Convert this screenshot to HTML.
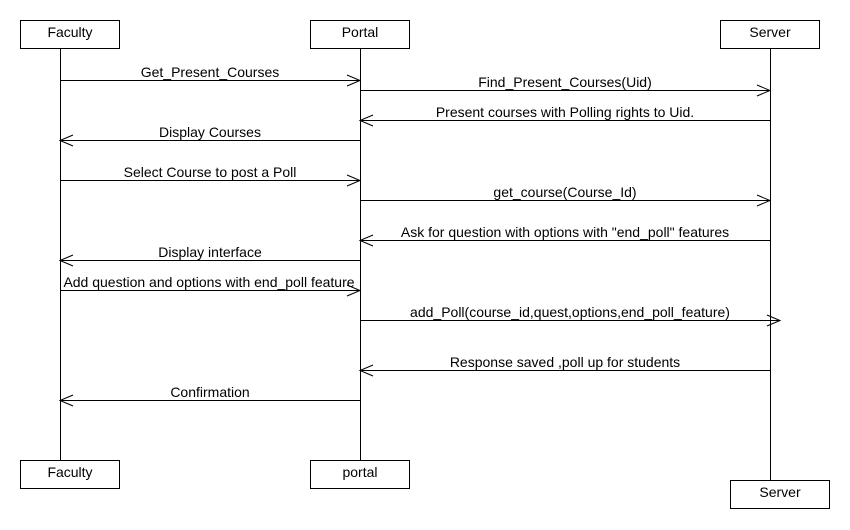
<!DOCTYPE html>
<html><head><meta charset="utf-8"><style>html,body{margin:0;padding:0;background:#fff}svg{display:block}</style></head>
<body>
<svg width="850" height="530" xmlns="http://www.w3.org/2000/svg" font-family="Liberation Sans, Arial, sans-serif" font-size="14" fill="#000">
<rect width="850" height="530" fill="#fff"/>
<g stroke="#000" stroke-width="1" fill="none" shape-rendering="crispEdges">
<rect x="20.5" y="20.5" width="99" height="28"/>
<rect x="310.5" y="20.5" width="99" height="28"/>
<rect x="720.5" y="20.5" width="99" height="28"/>
<rect x="20.5" y="460.5" width="99" height="28"/>
<rect x="310.5" y="460.5" width="99" height="28"/>
<rect x="730.5" y="480.5" width="99" height="28"/>
<line x1="60.5" y1="49" x2="60.5" y2="460"/>
<line x1="360.5" y1="49" x2="360.5" y2="460"/>
<line x1="770.5" y1="49" x2="770.5" y2="480"/>
<line x1="60" y1="80.5" x2="360" y2="80.5"/>
<line x1="360" y1="90.5" x2="770" y2="90.5"/>
<line x1="360" y1="120.5" x2="770" y2="120.5"/>
<line x1="60" y1="140.5" x2="360" y2="140.5"/>
<line x1="60" y1="180.5" x2="360" y2="180.5"/>
<line x1="360" y1="200.5" x2="770" y2="200.5"/>
<line x1="360" y1="240.5" x2="770" y2="240.5"/>
<line x1="60" y1="260.5" x2="360" y2="260.5"/>
<line x1="60" y1="290.5" x2="360" y2="290.5"/>
<line x1="360" y1="320.5" x2="780" y2="320.5"/>
<line x1="360" y1="370.5" x2="770" y2="370.5"/>
<line x1="60" y1="400.5" x2="360" y2="400.5"/>
</g>
<g stroke="#000" stroke-width="1" fill="none">
<polyline points="347,75 360,80.5 347,86"/>
<polyline points="757,85 770,90.5 757,96"/>
<polyline points="373,115 360,120.5 373,126"/>
<polyline points="73,135 60,140.5 73,146"/>
<polyline points="347,175 360,180.5 347,186"/>
<polyline points="757,195 770,200.5 757,206"/>
<polyline points="373,235 360,240.5 373,246"/>
<polyline points="73,255 60,260.5 73,266"/>
<polyline points="347,285 360,290.5 347,296"/>
<polyline points="767,315 780,320.5 767,326"/>
<polyline points="373,365 360,370.5 373,376"/>
<polyline points="73,395 60,400.5 73,406"/>
</g>
<g text-anchor="middle">
<text x="70" y="37">Faculty</text>
<text x="360" y="37">Portal</text>
<text x="770" y="37">Server</text>
<text x="70" y="477">Faculty</text>
<text x="360" y="477">portal</text>
<text x="780" y="497">Server</text>
<text x="210" y="77">Get_Present_Courses</text>
<text x="565" y="87">Find_Present_Courses(Uid)</text>
<text x="565" y="117">Present courses with Polling rights to Uid.</text>
<text x="210" y="137">Display Courses</text>
<text x="210" y="177">Select Course to post a Poll</text>
<text x="565" y="197">get_course(Course_Id)</text>
<text x="565" y="237">Ask for question with options with "end_poll" features</text>
<text x="210" y="257">Display interface</text>
<text x="209" y="287">Add question and options with end_poll feature</text>
<text x="570" y="317">add_Poll(course_id,quest,options,end_poll_feature)</text>
<text x="565" y="367">Response saved ,poll up for students</text>
<text x="210" y="397">Confirmation</text>
</g>
</svg>
</body></html>
